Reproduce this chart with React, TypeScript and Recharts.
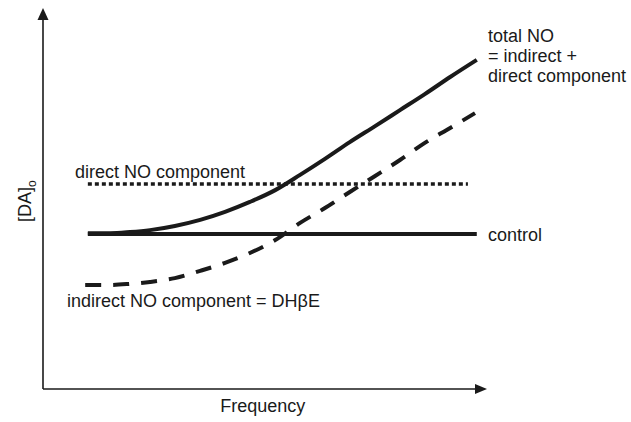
import React from "react";
import { LineChart, Line, XAxis, YAxis, ReferenceLine, ReferenceDot } from "recharts";

// Frequency (arbitrary units, 0-100) and [DA]o (arbitrary units, 0-100)
const freqTotal = [10.1, 15.1, 19.6, 24.1, 29.7, 35.4, 41.0, 46.6, 52.3, 57.9, 63.5, 69.1, 74.8, 80.4, 86.0, 91.7, 97.7];
const totalNO = [40.9, 40.9, 41.2, 41.7, 42.8, 44.4, 46.5, 49.1, 52.2, 56.2, 60.4, 64.8, 69.0, 73.2, 77.4, 81.9, 86.4];

const freqIndirect = [9.5, 15.1, 19.6, 24.1, 29.7, 35.4, 41.0, 46.6, 52.3, 57.9, 63.5, 69.1, 74.8, 80.4, 86.0, 91.7, 97.3];
const indirectNO = [27.3, 27.3, 27.6, 28.1, 29.1, 31.0, 33.1, 35.7, 39.1, 43.6, 47.5, 51.7, 55.9, 60.1, 64.6, 68.5, 72.4];

const freqControl = [10.1, 97.7];
const control = [40.7, 40.7];

const freqDirect = [10.1, 95.7];
const directNO = [53.8, 53.8];

const toRows = (xs: number[], ys: number[]) => xs.map((f, i) => ({ f, v: ys[i] }));

const totalData = toRows(freqTotal, totalNO);
const indirectData = toRows(freqIndirect, indirectNO);
const controlData = toRows(freqControl, control);
const directData = toRows(freqDirect, directNO);

const INK = "#1a1a1a";
const FONT = "'Liberation Sans', Arial, Helvetica, sans-serif";

const TextAt = (lines: string[], anchor: "start" | "middle" = "start") => (p: any) => (
  <text x={p.cx} y={p.cy} fill={INK} fontSize={18} fontFamily={FONT} textAnchor={anchor}>
    {lines.map((l, i) => (
      <tspan key={i} x={p.cx} dy={i === 0 ? 0 : 20}>
        {l}
      </tspan>
    ))}
  </text>
);

const UpArrow = (p: any) => (
  <polygon points={`${p.cx},${p.cy} ${p.cx - 5.5},${p.cy + 12} ${p.cx + 5.5},${p.cy + 12}`} fill={INK} />
);
const RightArrow = (p: any) => (
  <polygon points={`${p.cx},${p.cy} ${p.cx - 12},${p.cy - 5} ${p.cx - 12},${p.cy + 5}`} fill={INK} />
);
const YLabel = (p: any) => (
  <text
    x={p.cx}
    y={p.cy}
    fill={INK}
    fontSize={18}
    fontFamily={FONT}
    textAnchor="middle"
    transform={`rotate(-90 ${p.cx} ${p.cy})`}
  >
    [DA]
    <tspan fontSize={12} dy={5}>o</tspan>
  </text>
);

export default function App() {
  return (
    <div style={{ position: "absolute", left: 0, top: 0, width: 631, height: 422, background: "#fff" }}>
      <LineChart width={631} height={422} margin={{ top: 8, right: 144, bottom: 33, left: 43 }}>
        <XAxis type="number" dataKey="f" domain={[0, 100]} hide />
        <YAxis type="number" domain={[0, 100]} hide />
        <ReferenceLine segment={[{ x: 0, y: 0 }, { x: 0, y: 97 }]} stroke={INK} strokeWidth={1.6} ifOverflow="visible" />
        <ReferenceLine segment={[{ x: 0, y: 0 }, { x: 98, y: 0 }]} stroke={INK} strokeWidth={1.6} ifOverflow="visible" />
        <ReferenceDot x={0} y={100} r={0} shape={UpArrow} ifOverflow="visible" />
        <ReferenceDot x={100} y={0} r={0} shape={RightArrow} ifOverflow="visible" />

        <Line data={controlData} dataKey="v" type="linear" stroke={INK} strokeWidth={4} dot={false} isAnimationActive={false} />
        <Line data={directData} dataKey="v" type="linear" stroke={INK} strokeWidth={3.5} strokeDasharray="4 3" dot={false} isAnimationActive={false} />
        <Line data={indirectData} dataKey="v" type="monotone" stroke={INK} strokeWidth={4} strokeDasharray="16 12" dot={false} isAnimationActive={false} />
        <Line data={totalData} dataKey="v" type="monotone" stroke={INK} strokeWidth={4} dot={false} isAnimationActive={false} />

        <ReferenceDot x={100.2} y={91.1} r={0} shape={TextAt(["total NO", "= indirect +", "direct component"])} ifOverflow="visible" />
        <ReferenceDot x={100.2} y={38.8} r={0} shape={TextAt(["control"])} ifOverflow="visible" />
        <ReferenceDot x={7.2} y={55.4} r={0} shape={TextAt(["direct NO component"])} ifOverflow="visible" />
        <ReferenceDot x={5.4} y={21.5} r={0} shape={TextAt(["indirect NO component = DH\u03B2E"])} ifOverflow="visible" />
        <ReferenceDot x={49.5} y={-6.0} r={0} shape={TextAt(["Frequency"], "middle")} ifOverflow="visible" />
        <ReferenceDot x={-2.7} y={49.3} r={0} shape={YLabel} ifOverflow="visible" />
      </LineChart>
    </div>
  );
}
